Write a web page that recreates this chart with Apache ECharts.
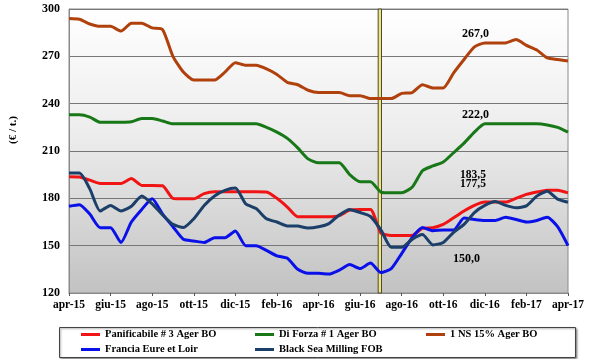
<!DOCTYPE html>
<html><head><meta charset="utf-8">
<script src="https://cdn.jsdelivr.net/npm/echarts@6/dist/echarts.min.js"></script>
<style>html,body{margin:0;padding:0;background:#fff}#c{width:600px;height:359px}</style>
</head><body><div id="c"></div>
<script>
// x positions: months since apr-15 (half-month steps)
const months = [0,0.5,1,1.5,2,2.5,3,3.5,4,4.5,5,5.5,6,6.5,7,7.5,8,8.5,9,9.5,10,10.5,11,11.5,12,12.5,13,13.5,14,14.5,15,15.5,16,16.5,17,17.5,18,18.5,19,19.5,20,20.5,21,21.5,22,22.5,23,23.5,24];
const tickLabels = ['apr-15','giu-15','ago-15','ott-15','dic-15','feb-16','apr-16','giu-16','ago-16','ott-16','dic-16','feb-17','apr-17'];
const seriesNames = ['Panificabile # 3 Ager BO','Di Forza # 1 Ager BO','1 NS 15% Ager BO','Francia Eure et Loir','Black Sea Milling FOB'];

const panificabile = [193.7,193.5,191.5,189.4,189.4,189.4,192.5,188.2,188.2,188,180,179.7,179.7,183,184.2,184.2,184.2,184.2,184.2,184,180,174.5,168.3,168.3,168.3,168.3,169,172.5,173,173,158,156.5,156.5,156.5,161,161.4,163.5,167.7,172,175.5,177.6,177.6,177.6,180,182.5,184,185.2,185.2,183.5];
const diForza = [233,233,231.5,228.2,228.2,228.2,228.5,230.6,230.6,229,227.2,227.2,227.2,227.2,227.2,227.2,227.2,227.2,227.2,225,222,218,212,205,202.5,202.5,202.5,195,190.5,190.5,184,183.5,183.5,187,197.5,200.5,203,209,215,222,227.2,227.2,227.2,227.2,227.2,227.2,226.5,225,222];
const ns15 = [294,293.5,290.5,289,289,286,291,291,288,287,270,260,255,255,255,260,266,264.3,264.3,262,258.5,253.5,252,248.5,247,247,247,245,245,243.2,243.2,243.2,246.5,247,252,250,250,259.5,268,276,278.5,278.5,278.5,280.6,277,274,269,268,267];
const francia = [175,176,170,161.4,161.4,152,165,173,179.7,170,162,154,153,152,155,155,159.3,150,150,147,143.5,142,135,132.5,132.5,132,134.5,138,135.5,139,133,135.5,145,155,161.5,159.5,160,160,167.5,166.6,166,166,168,166.6,165,166,168,162,150];
const blackSea = [196,196,186,172,175.5,172,175,181.5,176.5,169.5,163.5,161.5,167,175.5,181.5,185,186.5,176.5,173.5,167,165,162.5,162.4,161.2,162,164,169.5,173,171,168.5,160,149,149,154,157,150.5,152,158.5,163.5,171,175.5,178,175.5,174,175.2,181.4,184.5,179.5,177.5];
const cutoffMonths = [14.87, 15.03];
const endLabels = ['267,0','222,0','183,5','177,5','150,0'];

const valuesList = [panificabile, diForza, ns15, francia, blackSea];
const colors = ['#f01414','#187818','#b0400c','#0a10e8','#1c3f6a'];
const FONT = 'Liberation Serif';

const chart = echarts.init(document.getElementById('c'));
const series = seriesNames.map((n, i) => ({
  name: n, type: 'line', showSymbol: false, smooth: 0.2,
  data: months.map((m, k) => [m, valuesList[i][k]]),
  lineStyle: { width: 3, color: colors[i] }, itemStyle: { color: colors[i] }, z: 3
}));
series.push({
  name: 'cutoff', type: 'line', data: [], z: 6,
  markArea: { silent: true, itemStyle: { color: '#efe784', borderColor: '#4a4a30', borderWidth: 1 },
    data: [[{ xAxis: cutoffMonths[0], yAxis: 120 }, { xAxis: cutoffMonths[1], yAxis: 300 }]] }
});

const legendCommon = { orient: 'vertical', itemWidth: 19, itemHeight: 3, icon: 'rect', itemGap: 4, padding: 0, height: 40,
  textStyle: { fontFamily: FONT, fontWeight: 'bold', fontSize: 10.5, color: '#000' }, selectedMode: false };

chart.setOption({
  animation: false,
  grid: { left: 69, right: 32, top: 9, bottom: 66, show: true, borderColor: '#8a8a8a', borderWidth: 1,
    backgroundColor: new echarts.graphic.LinearGradient(0, 0, 0, 1, [{ offset: 0, color: '#ffffff' }, { offset: 0.45, color: '#ececec' }, { offset: 1, color: '#c2c2c2' }]) },
  xAxis: { type: 'value', min: 0, max: 24, interval: 2,
    axisLine: { lineStyle: { color: '#8a8a8a' } },
    axisTick: { show: true, length: 3, lineStyle: { color: '#555' } },
    splitLine: { show: false },
    axisLabel: { formatter: v => tickLabels[v / 2], fontFamily: FONT, fontWeight: 'bold', fontSize: 11.5, color: '#000', margin: 6 } },
  yAxis: { type: 'value', min: 120, max: 300, interval: 30,
    axisLine: { show: true, lineStyle: { color: '#8a8a8a' } }, axisTick: { show: false },
    splitLine: { lineStyle: { color: '#777', width: 1 } },
    axisLabel: { fontFamily: FONT, fontWeight: 'bold', fontSize: 12, color: '#000', margin: 9 } },
  legend: [
    Object.assign({ left: 81, top: 329, data: [seriesNames[0], seriesNames[3]] }, legendCommon),
    Object.assign({ left: 255, top: 329, data: [seriesNames[1], seriesNames[4]] }, legendCommon),
    Object.assign({ left: 426, top: 329, data: [seriesNames[2]] }, legendCommon)
  ],
  graphic: [
    { type: 'rect', z: 1, shape: { x: 59.5, y: 327.5, width: 516, height: 30 },
      style: { fill: '#fff', stroke: '#444', lineWidth: 1, shadowBlur: 2, shadowOffsetX: 1, shadowOffsetY: 1, shadowColor: 'rgba(0,0,0,0.4)' } },
    { type: 'text', z: 10, x: 13, y: 130, rotation: Math.PI / 2,
      style: { text: '(€ / t.)', font: 'bold 11px ' + FONT, fill: '#000', textAlign: 'center', textVerticalAlign: 'middle' } },
    { type: 'text', z: 10, x: 462, y: 34, style: { text: endLabels[0], font: 'bold 12px ' + FONT, fill: '#000', textVerticalAlign: 'middle' } },
    { type: 'text', z: 10, x: 462, y: 115, style: { text: endLabels[1], font: 'bold 12px ' + FONT, fill: '#000', textVerticalAlign: 'middle' } },
    { type: 'text', z: 10, x: 460, y: 175, style: { text: endLabels[2], font: 'bold 11.5px ' + FONT, fill: '#000', textVerticalAlign: 'middle' } },
    { type: 'text', z: 10, x: 460, y: 184, style: { text: endLabels[3], font: 'bold 11.5px ' + FONT, fill: '#000', textVerticalAlign: 'middle' } },
    { type: 'text', z: 10, x: 453, y: 259, style: { text: endLabels[4], font: 'bold 12px ' + FONT, fill: '#000', textVerticalAlign: 'middle' } }
  ],
  series: series
});
</script></body></html>
